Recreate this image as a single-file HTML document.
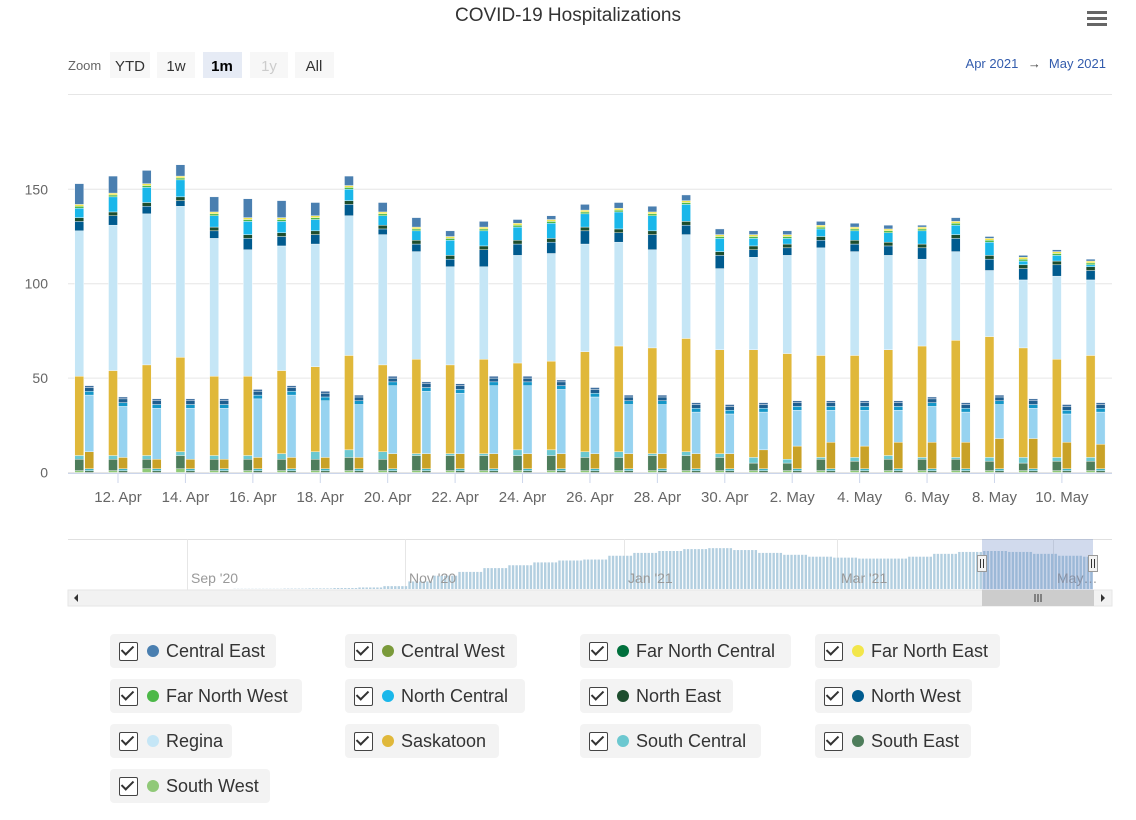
<!DOCTYPE html>
<html><head><meta charset="utf-8">
<style>
body{margin:0;background:#fff;font-family:"Liberation Sans",sans-serif;}
#wrap{position:relative;width:1136px;height:820px;overflow:hidden;}
.leg{position:absolute;height:34px;background:#f3f3f3;border-radius:4px;display:flex;align-items:center;font-size:18px;color:#333;}
.cb{width:17px;height:17px;border:1.5px solid #444;border-radius:2px;margin-left:9px;margin-right:9px;position:relative;background:#fff}
.cb:after{content:"";position:absolute;left:4px;top:0px;width:5px;height:10px;border:solid #333;border-width:0 2px 2px 0;transform:rotate(45deg)}
.dot{width:12px;height:12px;border-radius:50%;margin-right:7px}
</style></head><body>
<div id="wrap">
<svg id="svg" width="1136" height="620" style="position:absolute;left:0;top:0">
<text x="568" y="21" text-anchor="middle" font-size="19" fill="#333">COVID-19 Hospitalizations</text>
<g><rect x="1087" y="11" width="20" height="3" fill="#666"/><rect x="1087" y="17" width="20" height="3" fill="#666"/><rect x="1087" y="23" width="20" height="3" fill="#666"/></g>
<text x="68" y="70" font-size="13" fill="#666">Zoom</text>
<g><rect x="110" y="52" width="40" height="26" fill="#f7f7f7"/><text x="130" y="71" text-anchor="middle" font-size="15" fill="#333">YTD</text></g>
<g><rect x="157" y="52" width="38" height="26" fill="#f7f7f7"/><text x="176" y="71" text-anchor="middle" font-size="15" fill="#333">1w</text></g>
<g><rect x="203" y="52" width="39" height="26" fill="#e6ebf5"/><text x="222" y="71" text-anchor="middle" font-size="15" font-weight="bold" fill="#000">1m</text></g>
<g><rect x="250" y="52" width="38" height="26" fill="#f7f7f7"/><text x="269" y="71" text-anchor="middle" font-size="15" fill="#ccc">1y</text></g>
<g><rect x="295" y="52" width="39" height="26" fill="#f7f7f7"/><text x="314" y="71" text-anchor="middle" font-size="15" fill="#333">All</text></g>
<text x="1106" y="68" text-anchor="end" font-size="13" fill="#335cad">Apr 2021 <tspan fill="#444" dx="6">→</tspan><tspan dx="8">May 2021</tspan></text>
<line x1="68" y1="94.5" x2="1112" y2="94.5" stroke="#e6e6e6"/>
<g id="grid"></g><g id="bars"></g><g id="xax"></g><g id="nav"></g>
</svg>
<div id="legend"></div>
</div>
<script>
const categories=["11 Apr","12. Apr","13 Apr","14. Apr","15 Apr","16. Apr","17 Apr","18. Apr","19 Apr","20. Apr","21 Apr","22. Apr","23 Apr","24. Apr","25 Apr","26. Apr","27 Apr","28. Apr","29 Apr","30. Apr","1 May","2. May","3 May","4. May","5 May","6. May","7 May","8. May","9 May","10. May","11 May"];
const yTicks=[0,50,100,150];
// hospital (tall stack)
const hSouthWest=[1,1,2,2,1,1,1,1,1,1,1,1,1,1,1,1,1,1,1,1,1,1,1,1,1,1,1,1,1,1,1];
const hSouthEast=[6,6,5,7,6,6,6,6,7,6,8,8,8,8,8,7,7,8,8,7,4,4,6,5,6,6,6,5,4,5,5];
const hSouthCentral=[2,2,2,2,2,2,3,4,4,4,1,1,1,3,3,3,3,1,2,2,3,2,1,2,2,1,1,2,3,2,2];
const hSaskatoon=[42,45,48,50,42,42,44,45,50,46,50,47,50,46,47,53,56,56,60,55,57,56,54,54,56,59,62,64,58,52,54];
const hRegina=[77,77,80,80,73,67,66,65,74,69,57,52,49,57,57,57,55,52,55,43,49,52,57,55,50,46,47,35,36,44,40];
const hNorthWest=[5,5,4,3,4,6,5,5,6,3,4,4,9,6,6,7,5,8,5,7,4,4,4,4,5,6,7,6,6,6,5];
const hNorthEast=[2,2,2,2,2,2,2,2,2,2,2,2,2,2,2,2,2,2,2,2,2,2,2,2,2,2,2,2,2,2,2];
const hNorthCentral=[5,8,8,9,6,7,6,6,6,5,5,8,8,7,8,7,9,8,9,7,4,3,4,5,5,7,5,7,2,3,1];
const hFarNorthWest=[1,1,1,1,1,1,1,1,1,1,1,1,1,1,1,1,1,1,1,1,1,1,1,1,1,1,1,1,1,1,1];
const hFarNorthEast=[1,1,1,1,1,1,1,1,1,1,1,1,1,1,1,1,1,1,1,1,1,1,1,1,1,1,1,1,1,1,1];
const hCentralEast=[11,9,7,6,8,10,9,7,5,5,5,3,3,2,2,3,3,3,3,3,2,2,2,2,2,1,2,1,1,1,1];
// icu (short stack)
const iSouthEast=[1,1,1,1,1,1,1,1,1,1,1,1,1,1,1,1,1,1,1,1,1,1,1,1,1,1,1,1,1,1,1];
const iSouthCentral=[1,1,1,1,1,1,1,1,1,1,1,1,1,1,1,1,1,1,1,1,1,1,1,1,1,1,1,1,1,1,1];
const iSaskatoon=[9,6,5,5,5,6,6,6,6,8,8,8,8,8,8,8,8,8,8,8,10,12,14,12,14,14,14,16,16,14,13];
const iRegina=[30,27,27,27,27,31,33,30,28,36,33,32,36,36,34,30,26,26,22,21,20,19,17,19,17,19,16,18,16,15,17];
const iNorthCentral=[2,2,2,2,2,2,2,2,2,2,2,2,2,2,2,2,2,2,2,2,2,2,2,2,2,2,2,2,2,2,2];
const iNorthWest=[2,2,2,2,2,2,2,2,2,2,2,2,2,2,2,2,2,2,2,2,2,2,2,2,2,2,2,2,2,2,2];
const iCentralEast=[1,1,1,1,1,1,1,1,1,1,1,1,1,1,1,1,1,1,1,1,1,1,1,1,1,1,1,1,1,1,1];
// navigator weekly totals from 31 Aug 2020
const navWeekly=[0,0,1,1,2,3,5,8,15,40,70,90,110,125,140,150,155,175,190,200,210,215,205,190,180,170,165,160,160,170,185,195,200,195,185,175,170];
const navLabels=["Sep '20","Nov '20","Jan '21","Mar '21","May…"];

const NS="http://www.w3.org/2000/svg";
function mk(tag,attrs,parent){const e=document.createElementNS(NS,tag);for(const k in attrs)e.setAttribute(k,attrs[k]);parent.appendChild(e);return e;}
const y0=472.5,ppu=1.888;
const yS=v=>y0-v*ppu;
const xS=i=>84.3+33.71*i;
const grid=document.getElementById('grid');
yTicks.forEach(t=>{
  const l=mk('line',{x1:68,x2:1112,y1:yS(t),y2:yS(t),stroke:'#e6e6e6'},grid);
  
  
  const tx=mk('text',{x:48,y:yS(t)+5,'text-anchor':'end','font-size':14,fill:'#666'},grid);
  tx.textContent=t;
  
  
});
const bars=document.getElementById('bars');
const hSeries=[["south-west",hSouthWest,"#90c978"],["south-east",hSouthEast,"#4e7d5b"],["south-central",hSouthCentral,"#6cc8d0"],["saskatoon",hSaskatoon,"#e0b83a"],["regina",hRegina,"#c5e6f6"],["north-west",hNorthWest,"#005b8f"],["north-east",hNorthEast,"#1d4d2e"],["north-central",hNorthCentral,"#1ab7ea"],["far-north-west",hFarNorthWest,"#4cb848"],["far-north-east",hFarNorthEast,"#f2e64a"],["central-east",hCentralEast,"#4a7fb0"]];
const iSeries=[["south-east",iSouthEast,"#4e7d5b"],["south-central",iSouthCentral,"#3fb3c4"],["saskatoon",iSaskatoon,"#c9a227"],["regina",iRegina,"#97d3f0"],["north-central",iNorthCentral,"#1597c8"],["north-west",iNorthWest,"#1f5e8f"],["central-east",iCentralEast,"#3f6f9f"]];
categories.forEach((c,i)=>{
  let acc=0;
  hSeries.forEach(s=>{const v=s[1][i];const r=mk('rect',{x:xS(i)-9.5,y:yS(acc+v),width:9,height:Math.max(0,v*ppu),fill:s[2],stroke:'#fff','stroke-width':0.4},bars);
    
    acc+=v;});
  acc=0;
  iSeries.forEach(s=>{const v=s[1][i];const r=mk('rect',{x:xS(i)+0.5,y:yS(acc+v),width:9,height:Math.max(0,v*ppu),fill:s[2],stroke:'#fff','stroke-width':0.4},bars);
    
    acc+=v;});
});
const xax=document.getElementById('xax');
const al=mk('line',{x1:68,x2:1112,y1:473.5,y2:473.5,stroke:'#ccd6eb'},xax);


categories.forEach((c,i)=>{
  if(c.indexOf('.')<0)return;
  mk('line',{x1:xS(i),x2:xS(i),y1:473,y2:483,stroke:'#ccd6eb'},xax);
  const t=mk('text',{x:xS(i),y:502,'text-anchor':'middle','font-size':15,fill:'#666'},xax);
  t.textContent=c;
  
  
});
// navigator
const nav=document.getElementById('nav');
mk('line',{x1:68,x2:1112,y1:539.5,y2:539.5,stroke:'#e0e0e0'},nav);
const navGridX=[187,405,624,837,1053];
navGridX.forEach(x=>{mk('line',{x1:x+.5,x2:x+.5,y1:539,y2:590,stroke:'#e6e6e6'},nav);});
const dayPx=3.57,navX0=187-dayPx;
navWeekly.forEach((v,w)=>{for(let d=0;d<7;d++){const x=navX0+(w*7+d)*dayPx;if(x>1092)break;
  const b=mk('rect',{x:x,y:589-v*0.19,width:2.4,height:v*0.19,fill:'#b3cfe0'},nav);
  
  }});
navGridX.forEach((x,k)=>{
  const t=mk('text',{x:x+4,y:583,'font-size':14,fill:'#999'},nav);t.textContent=navLabels[k];
  
  });
const mask=mk('rect',{x:982,y:539,width:111,height:51,fill:'rgba(102,133,194,0.3)'},nav);


[982,1093].forEach(x=>{const h=mk('rect',{x:x-4.5,y:555.5,width:9,height:16,fill:'#f2f2f2',stroke:'#999'},nav);
  
  
  mk('line',{x1:x-1.5,x2:x-1.5,y1:559,y2:568,stroke:'#333'},nav);mk('line',{x1:x+1.5,x2:x+1.5,y1:559,y2:568,stroke:'#333'},nav);});
const sb=mk('rect',{x:68,y:590,width:1044,height:16,fill:'#f2f2f2',stroke:'#e6e6e6'},nav);


const th=mk('rect',{x:982,y:590,width:112,height:16,fill:'#cccccc'},nav);


mk('path',{d:'M78 594 L74 598 L78 602 Z',fill:'#333'},nav);
mk('path',{d:'M1101 594 L1105 598 L1101 602 Z',fill:'#333'},nav);
[1035,1038,1041].forEach(x=>mk('line',{x1:x,x2:x,y1:594,y2:602,stroke:'#333'},nav));
</script>
<div>
<div class="leg" style="left:110px;top:634px;width:166px"><span class="cb"></span><span class="dot" style="background:#4a7fb0"></span>Central East</div>
<div class="leg" style="left:345px;top:634px;width:172px"><span class="cb"></span><span class="dot" style="background:#7a9a3a"></span>Central West</div>
<div class="leg" style="left:580px;top:634px;width:211px"><span class="cb"></span><span class="dot" style="background:#00703c"></span>Far North Central</div>
<div class="leg" style="left:815px;top:634px;width:185px"><span class="cb"></span><span class="dot" style="background:#f2e64a"></span>Far North East</div>
<div class="leg" style="left:110px;top:679px;width:192px"><span class="cb"></span><span class="dot" style="background:#4cb848"></span>Far North West</div>
<div class="leg" style="left:345px;top:679px;width:180px"><span class="cb"></span><span class="dot" style="background:#1ab7ea"></span>North Central</div>
<div class="leg" style="left:580px;top:679px;width:153px"><span class="cb"></span><span class="dot" style="background:#1d4d2e"></span>North East</div>
<div class="leg" style="left:815px;top:679px;width:157px"><span class="cb"></span><span class="dot" style="background:#005b8f"></span>North West</div>
<div class="leg" style="left:110px;top:724px;width:122px"><span class="cb"></span><span class="dot" style="background:#c5e6f6"></span>Regina</div>
<div class="leg" style="left:345px;top:724px;width:154px"><span class="cb"></span><span class="dot" style="background:#e0b83a"></span>Saskatoon</div>
<div class="leg" style="left:580px;top:724px;width:181px"><span class="cb"></span><span class="dot" style="background:#6cc8d0"></span>South Central</div>
<div class="leg" style="left:815px;top:724px;width:156px"><span class="cb"></span><span class="dot" style="background:#4e7d5b"></span>South East</div>
<div class="leg" style="left:110px;top:769px;width:160px"><span class="cb"></span><span class="dot" style="background:#90c978"></span>South West</div>
</div>
</body></html>
